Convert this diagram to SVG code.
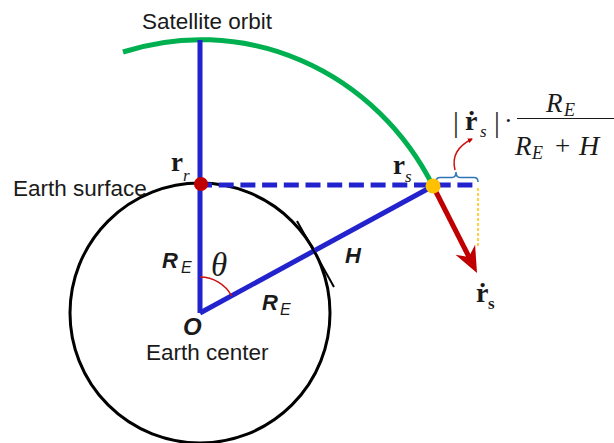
<svg xmlns="http://www.w3.org/2000/svg" width="614" height="443" viewBox="0 0 614 443">
<defs>
<style>
.sans{font-family:"Liberation Sans",Arial,sans-serif;fill:#1a1a1a}
.serif{font-family:"Liberation Serif","Times New Roman",serif;fill:#1a1a1a}
.bi{font-weight:bold;font-style:italic}
.it{font-style:italic}
.b{font-weight:bold}
.blue{stroke:#2323cd;stroke-width:5;fill:none}
</style>
<marker id="redtip" viewBox="0 0 10 10" refX="8" refY="5" markerWidth="5" markerHeight="5" orient="auto" markerUnits="userSpaceOnUse">
<path d="M0 0 L10 5 L0 10 z" fill="#c00000"/>
</marker>
</defs>
<rect width="614" height="443" fill="#ffffff"/>

<g id="earth">
<circle cx="200" cy="313" r="130" fill="none" stroke="#000" stroke-width="3"/>
<text class="sans" x="13" y="196" font-size="22.5">Earth surface</text>
<text class="sans" x="146" y="360" font-size="22.5">Earth center</text>
</g>

<g id="orbit">
<path d="M123 52 A262 273 0 0 1 433 186" fill="none" stroke="#00b050" stroke-width="5"/>
<text class="sans" x="142" y="29" font-size="22.5">Satellite orbit</text>
</g>

<g id="connectors">
<path class="blue" d="M200 40 V313"/>
<path class="blue" d="M200 313 L433 186"/>
<path class="blue" d="M197 185 H479" stroke-dasharray="15 6.7"/>
<path d="M297 221 L334 287" stroke="#000" stroke-width="2" fill="none"/>
<path d="M200 277 A36 36 0 0 1 231.6 295.8" stroke="#d01010" stroke-width="1.5" fill="none"/>
<path d="M478 188 V248" stroke="#ffc000" stroke-width="1.5" stroke-dasharray="3 2" fill="none"/>
<path d="M433 186 L469 257" stroke="#c00000" stroke-width="5" fill="none"/>
<polygon points="477,273 455.5,254.8 468.9,256.9 475.1,244.8" fill="#c00000"/>
<path d="M436 182 Q436 177.5 440 177.5 H452 Q456 177.5 456 172 Q456 177.5 460 177.5 H474 Q478 177.5 478 182" fill="none" stroke="#2e75b6" stroke-width="1.5"/>
<path d="M455 170 Q450 150 472 139" fill="none" stroke="#d01010" stroke-width="1.5" marker-end="url(#redtip)"/>
</g>

<g id="receiver">
<circle cx="201" cy="184" r="7" fill="#c00000"/>
<text class="serif b" x="171" y="171" font-size="27">r</text>
<text class="serif it" x="183" y="181" font-size="17">r</text>
</g>

<g id="satellite">
<circle cx="433" cy="186" r="7.5" fill="#ffc000"/>
<text class="serif b" x="393" y="174" font-size="27">r</text>
<text class="serif it" x="405" y="182" font-size="17">s</text>
</g>

<g id="labels">
<text class="sans bi" x="162" y="268" font-size="22">R</text>
<text class="sans it" x="181" y="273" font-size="16">E</text>
<text class="serif it" x="211" y="276" font-size="33">θ</text>
<text class="sans bi" x="345" y="263" font-size="22">H</text>
<text class="sans bi" x="262" y="310" font-size="22">R</text>
<text class="sans it" x="280" y="315" font-size="16">E</text>
<text class="sans bi" x="183" y="335" font-size="24">O</text>
</g>

<g id="velocity">
<text class="serif b" x="476" y="302" font-size="28">ṙ</text>
<text class="serif b" x="488" y="309" font-size="17">s</text>
</g>

<g id="formula">
<text class="serif" x="453" y="132" font-size="29">|</text>
<text class="serif b" x="465" y="130" font-size="28">ṙ</text>
<text class="serif it" x="480" y="137" font-size="17">s</text>
<text class="serif" x="494" y="132" font-size="29">|</text>
<text class="serif" x="504" y="129" font-size="26">·</text>
<path d="M517 118.5 H614" stroke="#1a1a1a" stroke-width="1.2"/>
<text class="serif it" x="546" y="112" font-size="27">R</text>
<text class="serif it" x="564" y="116" font-size="18">E</text>
<text class="serif it" x="515" y="155" font-size="27">R</text>
<text class="serif it" x="532" y="159" font-size="18">E</text>
<text class="serif" x="555" y="155" font-size="27">+</text>
<text class="serif it" x="579" y="155" font-size="28">H</text>
</g>
</svg>
